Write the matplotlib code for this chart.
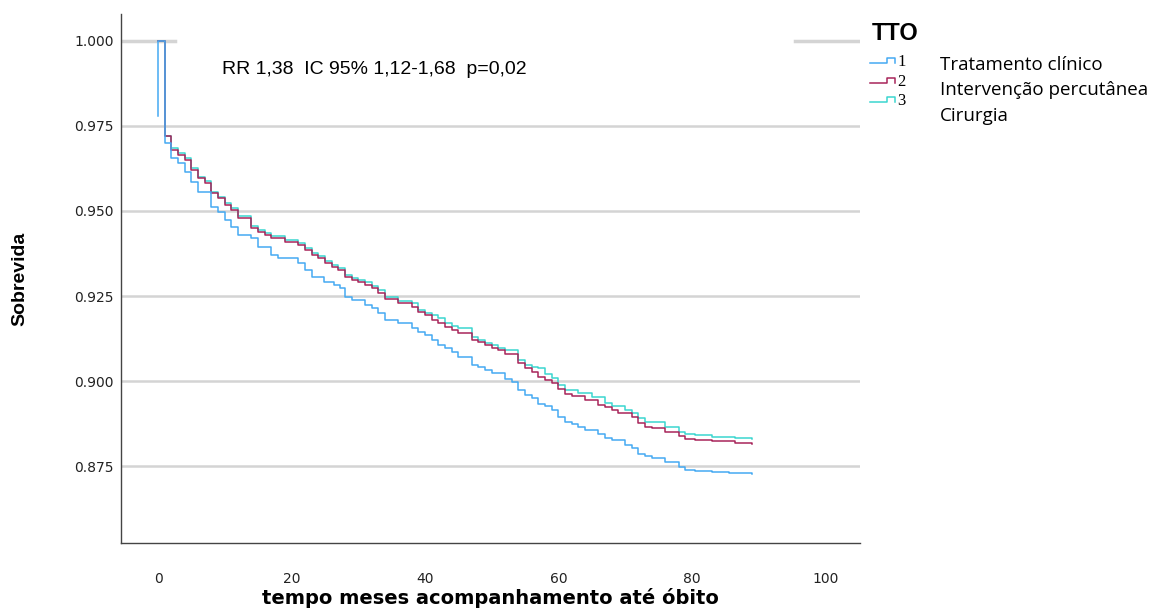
import matplotlib.pyplot as plt
from matplotlib.lines import Line2D

# curve data, months vs survival
t_clinico = [0, 0, 1, 2, 3, 4, 5, 6, 8, 9, 10, 11, 12, 14, 15, 17, 18, 21, 22, 23,
             24.8, 26.3, 27.3, 28, 29, 31, 32, 33, 34, 36, 38, 39, 40, 41, 42, 43, 44, 45, 47, 48,
             49, 50, 52, 53, 54, 55, 56, 57, 58, 59, 60, 61, 62, 63, 64, 66, 67, 68, 70, 71,
             72, 73, 74, 76, 78, 79, 80.5, 83, 85.5, 89]
s_clinico = [0.978, 1.0, 0.9700, 0.9655, 0.9640, 0.9616, 0.9586, 0.9557, 0.9513, 0.9498,
             0.9474, 0.9454, 0.9429, 0.9420, 0.9395, 0.9371, 0.9361, 0.9346, 0.9327, 0.9307,
             0.9292, 0.9283, 0.9273, 0.9248, 0.9238, 0.9224, 0.9214, 0.9199, 0.918, 0.917,
             0.9155, 0.9145, 0.9135, 0.912, 0.9106, 0.9096, 0.9086, 0.9072, 0.9047, 0.9042,
             0.9032, 0.9023, 0.9005, 0.8998, 0.8974, 0.8959, 0.8949, 0.8934, 0.8926, 0.8915,
             0.8895, 0.888, 0.8874, 0.8866, 0.8856, 0.8844, 0.8834, 0.8827, 0.8812, 0.8802,
             0.8787, 0.878, 0.8773, 0.8763, 0.8748, 0.874, 0.8735, 0.8733, 0.873, 0.8726]

t_percut = [0, 1, 2, 3, 4, 5, 6, 7, 8, 9, 10, 11, 12, 14, 15, 16, 17, 19, 21, 22,
            23, 24, 25, 26, 27, 28, 29, 30, 31, 32, 33, 34, 36, 38, 39, 40, 41, 42, 43, 44,
            45, 47, 48, 49, 50, 51, 52, 54, 55, 56, 57, 58, 59, 60, 61, 62, 64, 66, 67, 68,
            69, 71, 72, 73, 74, 76, 78, 79, 80.5, 83, 86.5, 89]
s_percut = [1.0, 0.9719, 0.968, 0.9665, 0.965, 0.962, 0.9596, 0.9582, 0.9552, 0.9537,
            0.9518, 0.9503, 0.9479, 0.9449, 0.9439, 0.943, 0.942, 0.941, 0.940, 0.9385,
            0.9371, 0.9361, 0.9346, 0.9336, 0.9327, 0.9307, 0.9297, 0.929, 0.9282, 0.9273,
            0.926, 0.924, 0.9229, 0.9219, 0.9204, 0.9194, 0.918, 0.917, 0.9158, 0.915,
            0.9142, 0.912, 0.9116, 0.9106, 0.9096, 0.9091, 0.9081, 0.9052, 0.9037, 0.9027,
            0.9013, 0.9003, 0.8993, 0.8978, 0.8963, 0.8957, 0.8944, 0.8929, 0.8923, 0.8915,
            0.8905, 0.8895, 0.8876, 0.8866, 0.8861, 0.8851, 0.8838, 0.883, 0.8827, 0.8824,
            0.8817, 0.8815]

t_cirurgia = [0, 1, 2, 3, 4, 5, 6, 7, 8, 9, 10, 11, 12, 14, 15, 16, 17, 19, 21, 22,
              23, 24, 25, 26, 27, 28, 29, 30, 31, 32, 33, 34, 36, 38, 39, 40, 41, 42, 43, 44,
              45, 47, 48, 49, 50, 51, 52, 54, 55, 56, 57, 58, 59, 60, 61, 63, 65, 67, 68, 70,
              71, 72, 73, 76, 78, 79, 80.5, 83, 86.5, 89]
s_cirurgia = [1.0, 0.9719, 0.9685, 0.967, 0.9655, 0.9626, 0.960, 0.9587, 0.9557, 0.9542,
              0.9523, 0.9508, 0.9484, 0.9455, 0.9444, 0.9436, 0.9426, 0.9416, 0.9406, 0.9391,
              0.9377, 0.9367, 0.9352, 0.9342, 0.9333, 0.9313, 0.9303, 0.9298, 0.929, 0.928,
              0.9268, 0.9248, 0.9235, 0.9229, 0.921, 0.920, 0.9194, 0.9185, 0.917, 0.9162,
              0.9155, 0.913, 0.912, 0.9112, 0.9106, 0.9098, 0.9091, 0.9062, 0.9047, 0.904,
              0.9037, 0.902, 0.9008, 0.8988, 0.8974, 0.8964, 0.8952, 0.8936, 0.8926, 0.8915,
              0.8905, 0.889, 0.888, 0.8866, 0.8851, 0.8844, 0.884, 0.8837, 0.8832, 0.883]

y_ticks = [0.875, 0.900, 0.925, 0.950, 0.975, 1.000]
x_ticks = [0, 20, 40, 60, 80, 100]
grupos = ['1', '2', '3']
nomes = ['Tratamento clínico', 'Intervenção percutânea', 'Cirurgia']
cores = ['#45aaf2', '#a8245a', '#3ad6d0']

W, H = 1155, 608
fig = plt.figure(figsize=(W / 100, H / 100), dpi=100)
ax = fig.add_axes([121 / W, 1 - 543 / H, (860 - 121) / W, (543 - 14) / H])

ax.set_xlim(-5.55, 105.2)
ax.set_ylim(0.8524, 1.0079)

# gridlines (1.000 one is partly hidden behind the annotation box)
for y in y_ticks[:-1]:
    ax.axhline(y, color='#d4d4d4', lw=1.8, zorder=0)
ax.axhline(1.0, xmin=0, xmax=(175 - 121) / (860 - 121), color='#d4d4d4', lw=2.5, zorder=0)
ax.axhline(1.0, xmin=(795 - 121) / (860 - 121), xmax=1, color='#d4d4d4', lw=2.5, zorder=0)

ax.step(t_cirurgia, s_cirurgia, where='post', color=cores[2], lw=1.1)
ax.step(t_percut, s_percut, where='post', color=cores[1], lw=1.1)
ax.step(t_clinico, s_clinico, where='post', color=cores[0], lw=1.1)

for s in ['top', 'right']:
    ax.spines[s].set_visible(False)
for s in ['left', 'bottom']:
    ax.spines[s].set_color('#444444')
    ax.spines[s].set_linewidth(1.0)

ax.set_yticks(y_ticks)
ax.set_yticklabels(['%.3f' % v for v in y_ticks])
ax.set_xticks(x_ticks)
ax.tick_params(axis='both', length=0, labelsize=10, labelcolor='#222222')
ax.tick_params(axis='x', pad=21)
ax.tick_params(axis='y', pad=5)

ax.set_xlabel('tempo meses acompanhamento até óbito', fontsize=14, fontweight='bold',
              va='center')
ax.xaxis.set_label_coords(0.5, (543 - 598) / 529)
ax.set_ylabel('Sobrevida', fontsize=14, fontweight='bold', family='Liberation Sans',
              va='center')
ax.yaxis.set_label_coords((20 - 121) / 739, 0.5)

fig.text(222 / W, 1 - 70 / H, 'RR 1,38  IC 95% 1,12-1,68  p=0,02', fontsize=14,
         family='Liberation Sans', va='center', ha='left')

# legend
fig.text(872 / W, 1 - 33 / H, 'TTO', fontsize=17, family='Liberation Sans',
         fontweight='semibold', va='center', ha='left')
sym_y = [61, 81, 100]
lab_y = [65, 90, 116]
for g, nome, cor, sy, ly in zip(grupos, nomes, cores, sym_y, lab_y):
    xs = [870, 887, 887, 895, 895]
    ys = [sy + 2, sy + 2, sy - 3, sy - 3, sy + 2]
    fig.add_artist(Line2D([x / W for x in xs], [1 - y / H for y in ys],
                          transform=fig.transFigure, color=cor, lw=1.1))
    fig.text(897 / W, 1 - (sy + 1) / H, g, fontsize=12, family='Liberation Serif',
             va='center', ha='left')
    fig.text(940 / W, 1 - ly / H, nome, fontsize=13.5, family='Open Sans',
             va='center', ha='left')

fig.savefig('out.png', dpi=100)
